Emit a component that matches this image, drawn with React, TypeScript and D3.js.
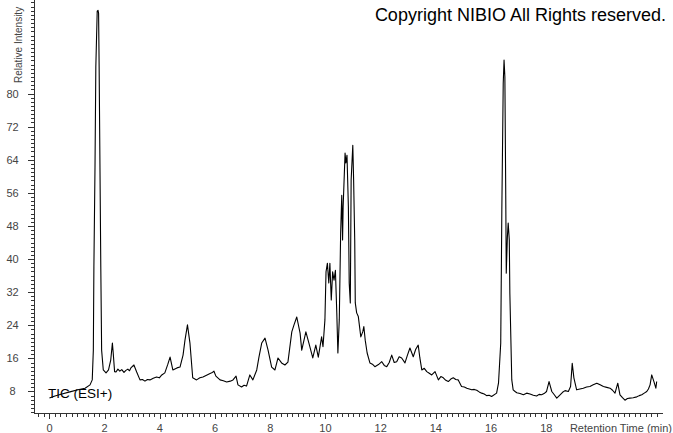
import React from "react";
import * as d3 from "d3";

const retentionTimes: number[] = [
  0.0, 0.2, 0.45, 0.74, 1.03, 1.29, 1.47, 1.55, 1.59, 1.61, 1.65, 1.68, 1.73, 1.76, 1.78, 1.8, 1.83, 1.86, 1.89, 1.95,
  2.05, 2.14, 2.22, 2.28, 2.31, 2.36, 2.41, 2.48, 2.55, 2.62, 2.7, 2.77, 2.84, 2.9, 2.95, 3.06, 3.16, 3.28, 3.37, 3.46, 3.55, 3.64, 3.76, 3.88, 3.98, 4.07, 4.18, 4.29,
  4.37, 4.47, 4.62, 4.73, 4.84, 4.91, 5.0, 5.09, 5.19, 5.33, 5.45, 5.56, 5.71, 5.8, 5.88, 5.96, 6.03, 6.18, 6.3, 6.42, 6.55, 6.65, 6.76,
  6.83, 6.96, 7.05, 7.14, 7.26, 7.37, 7.51, 7.59, 7.69, 7.81, 7.92, 8.05, 8.17, 8.28, 8.41, 8.53, 8.64, 8.78, 8.86, 8.96, 9.08,
  9.14, 9.29, 9.4, 9.54, 9.65, 9.74, 9.86, 9.91, 9.98, 10.02, 10.07, 10.12, 10.16, 10.21, 10.26, 10.31, 10.36, 10.41, 10.45, 10.5,
  10.55, 10.59, 10.62, 10.64, 10.71, 10.74, 10.78, 10.83, 10.86, 10.9, 10.93, 10.99, 11.02, 11.06, 11.08, 11.13, 11.19, 11.28, 11.35, 11.39,
  11.44, 11.51, 11.61, 11.7, 11.79, 11.92, 12.04, 12.13, 12.22, 12.31, 12.4, 12.49, 12.58, 12.67, 12.76, 12.88, 12.97, 13.06, 13.18, 13.27, 13.36, 13.42, 13.49, 13.58, 13.67, 13.76, 13.85, 13.97, 14.09, 14.18, 14.27,
  14.36, 14.45, 14.54, 14.63, 14.72, 14.81, 14.93, 15.03, 15.12, 15.21, 15.3, 15.39, 15.48, 15.57, 15.66, 15.75, 15.84, 15.93, 16.02, 16.2, 16.27, 16.35, 16.39, 16.44, 16.47, 16.5, 16.53, 16.55, 16.59,
  16.62, 16.66, 16.68, 16.75, 16.8, 16.87, 16.93, 17.05, 17.17, 17.29, 17.41, 17.53, 17.65, 17.74, 17.83, 17.92, 18.01, 18.1, 18.2, 18.29, 18.38, 18.5, 18.59, 18.68, 18.8, 18.88, 18.94, 19.0,
  19.1, 19.22, 19.34, 19.46, 19.58, 19.7, 19.83, 19.95, 20.07, 20.19, 20.31, 20.4, 20.49, 20.59, 20.67, 20.76, 20.85, 20.94, 21.03, 21.15, 21.28, 21.37, 21.46, 21.55, 21.64, 21.7, 21.76, 21.82, 21.9, 21.97, 22.0,
];

const relativeIntensity: number[] = [
  6.4, 6.9, 7.4, 7.9, 8.4, 8.8, 9.6, 10.8, 18.0, 38.1, 62.2, 86.4, 99.9, 100.1, 99.4, 86.4, 62.2, 38.1, 18.0, 13.2,
  12.5, 13.2, 15.6, 19.7, 17.3, 12.8, 12.7, 13.4, 12.9, 13.3, 12.6, 13.1, 13.4, 13.0, 13.7, 14.4, 12.7, 10.8, 10.9, 10.5, 10.9, 10.8, 11.2, 11.5, 11.3, 12.0, 12.5, 14.6,
  16.3, 13.2, 13.7, 13.9, 16.8, 20.4, 24.1, 19.7, 11.3, 10.8, 11.3, 11.5, 12.0, 12.3, 12.5, 12.9, 11.7, 10.8, 10.6, 10.3, 10.5, 10.8, 11.7,
  9.6, 9.1, 9.5, 9.3, 12.0, 10.8, 13.2, 16.3, 19.7, 20.9, 18.0, 13.9, 13.2, 16.1, 14.9, 14.4, 15.1, 22.4, 24.1, 26.0, 22.1,
  18.0, 22.4, 19.7, 16.1, 19.2, 16.3, 21.2, 18.8, 25.3, 36.9, 39.0, 34.2, 39.0, 30.1, 36.9, 34.9, 37.3, 27.0, 17.3, 25.3,
  46.3, 55.4, 44.6, 52.6, 65.6, 63.2, 65.1, 52.6, 34.2, 29.4, 59.1, 67.5, 59.1, 44.6, 29.4, 27.0, 26.1, 21.2, 22.4, 23.7,
  20.4, 17.3, 14.9, 14.6, 14.0, 14.5, 15.2, 14.3, 14.0, 15.0, 16.8, 15.0, 15.2, 16.4, 16.1, 14.9, 16.8, 18.5, 16.4, 18.2, 19.2, 16.1, 13.2, 13.6, 12.8, 12.4, 12.0, 12.8, 10.8, 11.6, 11.3,
  10.7, 10.4, 11.0, 11.3, 10.9, 10.8, 9.2, 9.1, 8.8, 8.6, 8.4, 8.5, 8.3, 7.9, 7.6, 7.4, 7.0, 7.1, 6.8, 7.6, 10.1, 19.7, 51.9, 82.5, 88.1, 84.0, 56.7, 36.6, 45.3,
  48.7, 44.6, 31.8, 10.8, 8.4, 8.0, 7.7, 7.5, 7.2, 7.6, 7.4, 7.1, 6.9, 7.3, 7.2, 7.5, 8.0, 10.4, 8.0, 7.2, 6.4, 7.2, 7.8, 8.2, 8.0, 9.2, 14.8, 11.3,
  8.4, 8.6, 8.8, 9.1, 9.2, 9.6, 10.0, 9.6, 9.2, 9.0, 8.8, 8.3, 7.6, 10.0, 7.2, 6.5, 5.9, 6.3, 6.4, 6.5, 6.7, 7.0, 7.2, 7.6, 8.0, 8.6, 9.6, 12.0, 10.4, 8.8, 10.4,
];

const yTickValues: number[] = [8, 16, 24, 32, 40, 48, 56, 64, 72, 80];
const xTickValues: number[] = [0, 2, 4, 6, 8, 10, 12, 14, 16, 18];

const WIDTH = 673;
const HEIGHT = 433;
const FONT = "'Liberation Sans', Arial, sans-serif";

export default function App() {
  const x = d3.scaleLinear().domain([-0.56, 22.12]).range([34, 660]);
  const y = d3.scaleLinear().domain([2.8, 102.6]).range([413, 0]);

  const points: [number, number][] = retentionTimes.map((t, i) => [t, relativeIntensity[i]]);
  const line = d3
    .line<[number, number]>()
    .x((d) => x(d[0]))
    .y((d) => y(d[1]));

  const yMinor = d3.range(3, 103, 1);
  const xMinor = d3.range(-0.4, 22.2, 0.2);

  return (
    <svg
      width={WIDTH}
      height={HEIGHT}
      style={{ position: "absolute", left: 0, top: 0, background: "#fff" }}
      fontFamily={FONT}
    >
      <rect x={0} y={0} width={WIDTH} height={HEIGHT} fill="#fff" />
      {/* Y axis */}
      <line x1={34.5} x2={34.5} y1={0} y2={413.5} stroke="#333" strokeWidth={1} />
      {yMinor.map((v) => (
        <line
          key={"ym" + v}
          x1={31}
          x2={34.5}
          y1={Math.round(y(v)) + 0.5}
          y2={Math.round(y(v)) + 0.5}
          stroke="#333"
          strokeWidth={1}
        />
      ))}
      {yTickValues.map((v) => (
        <g key={"yt" + v}>
          <line
            x1={28}
            x2={34.5}
            y1={Math.round(y(v)) + 0.5}
            y2={Math.round(y(v)) + 0.5}
            stroke="#333"
            strokeWidth={1}
          />
          <text x={12.5} y={y(v) + 4} fontSize={11} fill="#444" textAnchor="middle">
            {v}
          </text>
        </g>
      ))}
      <text
        transform={`translate(22,83) rotate(-90)`}
        fontSize={10}
        fill="#444"
        textAnchor="start"
      >
        Relative Intensity
      </text>

      {/* X axis */}
      <line x1={34} x2={663} y1={413.5} y2={413.5} stroke="#333" strokeWidth={1} />
      {xMinor.map((v, i) => (
        <line
          key={"xm" + i}
          x1={Math.round(x(v)) + 0.5}
          x2={Math.round(x(v)) + 0.5}
          y1={413.5}
          y2={417}
          stroke="#333"
          strokeWidth={1}
        />
      ))}
      {xTickValues.map((v) => (
        <g key={"xt" + v}>
          <line
            x1={Math.round(x(v)) + 0.5}
            x2={Math.round(x(v)) + 0.5}
            y1={413.5}
            y2={419}
            stroke="#333"
            strokeWidth={1}
          />
          <text x={x(v)} y={432} fontSize={11} fill="#444" textAnchor="middle">
            {v}
          </text>
        </g>
      ))}
      <text x={672} y={432} fontSize={11} fill="#444" textAnchor="end">
        Retention Time (min)
      </text>

      {/* Trace */}
      <path d={line(points) || ""} fill="none" stroke="#000" strokeWidth={1.1} strokeLinejoin="round" />

      {/* Annotations */}
      <text x={48} y={398} fontSize={13.5} fill="#000">
        TIC (ESI+)
      </text>
      <text x={666} y={21} fontSize={18} fill="#000" textAnchor="end">
        Copyright NIBIO All Rights reserved.
      </text>
    </svg>
  );
}
